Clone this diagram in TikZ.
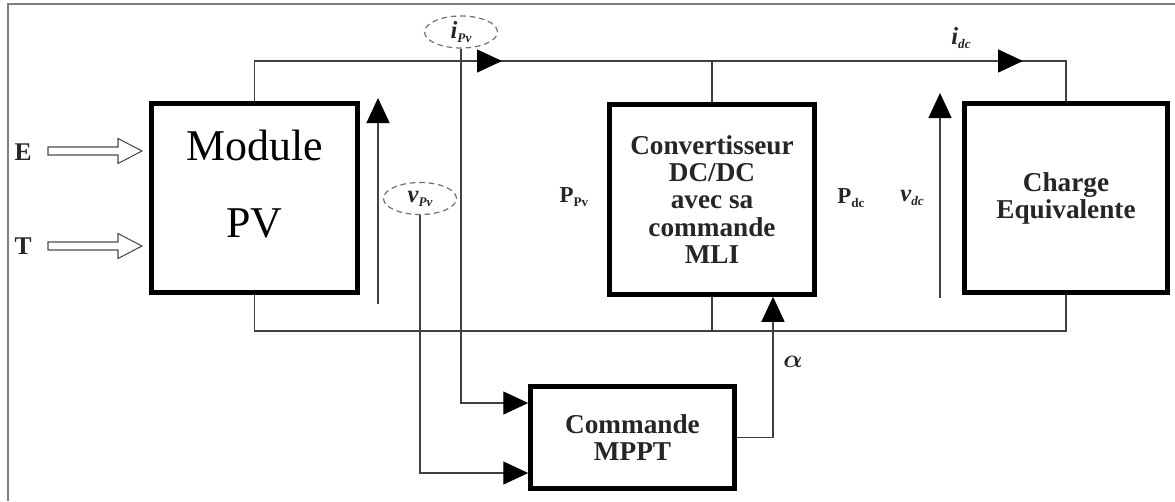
\documentclass[tikz,border=0pt]{standalone}
\usepackage{fontspec}
\setmainfont{Liberation Serif}
\usetikzlibrary{arrows.meta,shapes.geometric}
\newcommand{\lowsub}[1]{\raisebox{-0.35ex}{\fontsize{7.5}{7.5}\selectfont #1}}
\begin{document}
\begin{tikzpicture}[x=0.02cm,y=-0.02cm,
  blk/.style={draw=black, line width=2.6pt, align=center, inner sep=0pt, fill=white},
  bigtxt/.style={font=\fontsize{15.5}{15.4}\selectfont\bfseries, text=black!85},
  wire/.style={draw=black!75, line width=0.8pt},
  tip/.style={-{Triangle[length=0.5cm,width=0.46cm,fill=black,color=black]}},
  meas/.style={draw=black!55, ellipse, minimum width=1.46cm, minimum height=0.64cm, inner sep=0pt, line width=0.7pt, dash pattern=on 3.2pt off 2.2pt},
  lab/.style={inner sep=0pt, font=\fontsize{13}{13}\selectfont\bfseries, text=black!85},
  hollow/.style={draw=black!70, line width=0.6pt, fill=white}]
\useasboundingbox (0,0) rectangle (1175,501);
% frame
\draw[gray, line width=1.1pt] (8,501) -- (8,4) -- (1175,4);

% blocks
\node[blk, minimum width=4.12cm, minimum height=3.78cm] (mod) at (254.5,198) {};
\node[inner sep=0pt, align=center, font=\fontsize{25}{44}\selectfont] (modtxt) at (254.5,184) {Module\\PV};
\node[blk, bigtxt, minimum width=4.1cm, minimum height=3.8cm] (conv) at (712,199.5)
  {Convertisseur\\DC/DC\\avec sa\\commande\\MLI};
\node[blk, bigtxt, minimum width=4.06cm, minimum height=3.78cm] (chg) at (1066,198)
  {Charge\\Equivalente};
\node[blk, bigtxt, minimum width=4.08cm, minimum height=2.04cm] (mppt) at (632.5,437.5)
  {Commande\\MPPT};

% inputs E and T
\node[lab, font=\fontsize{14.5}{14.5}\selectfont\bfseries] (E) at (23,152) {E};
\node[lab, font=\fontsize{14.5}{14.5}\selectfont\bfseries] (T) at (23,246) {T};
\foreach \yy in {151,246}
  \draw[hollow] (48,{\yy-4}) -- (118,{\yy-4}) -- (118,{\yy-12.5}) -- (142,\yy)
     -- (118,{\yy+12.5}) -- (118,{\yy+4}) -- (48,{\yy+4}) -- cycle;

% buses
\coordinate (tl) at (254.5,61);
\coordinate (tr) at (1066,61);
\coordinate (bl) at (254.5,331);
\coordinate (br) at (1066,331);
\draw[wire] (mod.north) -- (tl) -- (tr) -- (chg.north);
\draw[wire] (conv.north) -- (conv.north |- tl);
\draw[wire] (mod.south) -- (bl) -- (br) -- (chg.south);
\draw[wire] (conv.south) -- (conv.south |- bl);

% current arrows on top bus
\coordinate (a1s) at (474,61);
\coordinate (a1e) at (502,61);
\coordinate (a2s) at (995,61);
\coordinate (a2e) at (1023,61);
\draw[wire, tip] (a1s) -- (a1e);
\draw[wire, tip] (a2s) -- (a2e);

% voltage arrows
\coordinate (vpb) at (378,304);
\coordinate (vpt) at (378,98);
\draw[wire, tip] (vpb) -- (vpt);
\coordinate (vdb) at (940,298);
\coordinate (vdt) at (940,93);
\draw[wire, tip] (vdb) -- (vdt);

% measurement ellipses
\node[meas] (ipv) at (461,32) {};
\node[inner sep=0pt, font=\fontsize{14}{14}\selectfont\bfseries\itshape, text=black!85] (ipvt) at (461,32) {i\lowsub{Pv}};
\node[meas] (vpv) at (420,198.5) {};
\node[inner sep=0pt, font=\fontsize{14}{14}\selectfont\bfseries\itshape, text=black!85] (vpvt) at (420,198.5) {v\lowsub{Pv}};

\coordinate (y1) at (0,403);
\coordinate (y2) at (0,473);
\draw[wire, tip] (ipv.south) |- (mppt.west |- y1);
\draw[wire, tip] (vpv.south) |- (mppt.west |- y2);

% MPPT output alpha
\coordinate (ax) at (773,0);
\draw[wire, tip] (mppt.east) -| (ax |- conv.south);
\node[inner sep=0pt, font=\fontsize{15}{15}\selectfont\mathversion{bold}, text=black!85] (alpha) at (793,362) {$\alpha$};

% labels
\node[lab] (ppv) at (574,197) {P\lowsub{Pv}};
\node[lab] (pdc) at (851,198) {P\lowsub{dc}};
\node[lab, font=\fontsize{14}{14}\selectfont\bfseries\itshape] (vdc) at (912,198) {v\lowsub{dc}};
\node[lab, font=\fontsize{14}{14}\selectfont\bfseries\itshape] (idc) at (961,38) {i\lowsub{dc}};
\end{tikzpicture}
\end{document}
